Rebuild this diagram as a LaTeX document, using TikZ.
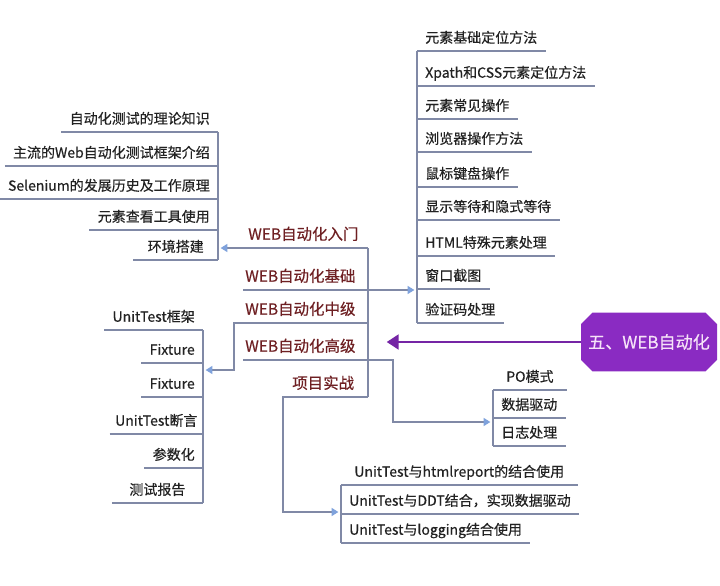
\documentclass[tikz,border=0pt]{standalone}
\usepackage{fontspec}
\setmainfont{Noto Sans CJK SC}[FakeBold=0.4]
\usetikzlibrary{arrows.meta,shapes.misc}
\definecolor{linkgray}{HTML}{8089A6}
\definecolor{tipblue}{HTML}{7FA2DC}
\definecolor{branchred}{HTML}{6E1F22}
\definecolor{leafink}{HTML}{222222}
\definecolor{rootpurple}{HTML}{8A2BC2}
\definecolor{rootink}{HTML}{F6E2F8}

\begin{document}
\begin{tikzpicture}[
        x=0.75pt, y=-0.75pt,
        leaf/.style={
            inner xsep=6pt,
            inner ysep=0pt,
            text height=9pt,
            text depth=6pt,
            font=\fontsize{10.5}{12}\selectfont,
            text=leafink
        },
        rleaf/.style={leaf, anchor=south west},
        lleaf/.style={leaf, anchor=south east},
        branch/.style={
            anchor=south west,
            inner sep=0pt,
            text height=10pt,
            text depth=6pt,
            font=\fontsize{11.6}{13}\selectfont,
            text=branchred
        },
        root/.style={
            chamfered rectangle,
            chamfered rectangle xsep=5pt,
            inner xsep=0pt,
            fill=rootpurple,
            text=rootink,
            minimum width=102pt,
            minimum height=44pt,
            font=\fontsize{12.8}{14}\selectfont
        },
        link/.style={draw=linkgray, line width=0.9pt},
        arrow/.style={link, -{Triangle[length=5pt, width=6pt, color=tipblue]}, shorten >=2pt},
        rootarrow/.style={draw=rootpurple!85!black, line width=2.2pt, -{Triangle[length=9pt, width=11pt]}}
    ]
    \useasboundingbox[fill=white] (0,0) rectangle (720,585);

    \node[rleaf] (r1) at (417,51) {元素基础定位方法};
    \node[rleaf] (r2) at (417,86) {Xpath和CSS元素定位方法};
    \node[rleaf] (r3) at (417,119) {元素常见操作};
    \node[rleaf] (r4) at (417,152) {浏览器操作方法};
    \node[rleaf] (r5) at (417,187) {鼠标键盘操作};
    \node[rleaf] (r6) at (417,220) {显示等待和隐式等待};
    \node[rleaf] (r7) at (417,256) {HTML特殊元素处理};
    \node[rleaf] (r8) at (417,289) {窗口截图};
    \node[rleaf] (r9) at (417,323) {验证码处理};

    \node[lleaf] (a1) at (218,132) {自动化测试的理论知识};
    \node[lleaf] (a2) at (218,166) {主流的Web自动化测试框架介绍};
    \node[lleaf] (a3) at (218,199) {Selenium的发展历史及工作原理};
    \node[lleaf] (a4) at (218,230) {元素查看工具使用};
    \node[lleaf, minimum width=63pt] (a5) at (218,260) {环境搭建};

    \node[lleaf] (u1) at (203,330) {UnitTest框架};
    \node[lleaf] (u2) at (203,363) {Fixture};
    \node[lleaf] (u3) at (203,397) {Fixture};
    \node[lleaf, inner xsep=4pt] (u4) at (203,434) {UnitTest断言};
    \node[lleaf] (u5) at (203,468) {参数化};
    \node[lleaf, minimum width=68pt] (u6) at (203,503) {测试报告};

    \node[rleaf, minimum width=55pt] (p1) at (493,390) {PO模式};
    \node[rleaf] (p2) at (493,418) {数据驱动};
    \node[rleaf] (p3) at (493,446) {日志处理};

    \node[rleaf, minimum width=177pt] (b1) at (341,485) {UnitTest与htmlreport的结合使用};
    \node[rleaf, minimum width=177pt] (b2) at (341,514) {UnitTest与DDT结合，实现数据驱动};
    \node[rleaf] (b3) at (341,543) {UnitTest与logging结合使用};

    \foreach \n in {r1,r2,r3,r4,r5,r6,r7,r8,r9,a1,a2,a3,a4,a5,u1,u2,u3,u4,u5,u6,p1,p2,p3,b1,b2,b3}
        \draw[link] (\n.south west) -- (\n.south east);
    \draw[link] (r1.south west) -- (r9.south west);
    \draw[link] (a1.south east) -- (a5.south east);
    \draw[link] (u1.south east) -- (u6.south east);
    \draw[link] (p1.south west) -- (p3.south west);
    \draw[link] (b1.south west) -- (b3.south west);

    \node[branch] (rumen) at (248,248) {WEB自动化入门};
    \node[branch] (jichu) at (245,290) {WEB自动化基础};
    \node[branch] (zhongji) at (245,323) {WEB自动化中级};
    \node[branch] (gaoji) at (245,360) {WEB自动化高级};
    \node[branch] (shizhan) at (292,397) {项目实战};

    \coordinate (hubtop) at (368,248);
    \coordinate (hubbot) at (368,397);
    \coordinate (zjbend) at (234,370);
    \coordinate (gjbend) at (393,422);
    \coordinate (szbend) at (283,512);

    \draw[link] (hubtop) -- (hubbot);
    \draw[arrow] (hubtop) -- (a5.south east |- hubtop);
    \draw[arrow] ([xshift=-1.5pt]jichu.south west) -- (r9.south west |- jichu.south west);
    \draw[arrow] (hubtop |- zhongji.south) -| (zjbend) -- (u1.south east |- zjbend);
    \draw[arrow] ([xshift=-1.5pt]gaoji.south west) -| (gjbend) -- (p1.south west |- gjbend);
    \draw[arrow] (hubbot) -| (szbend) -- (b1.south west |- szbend);

    \node[root] (root) at (649,342) {五、WEB自动化};
    \draw[rootarrow] (root.west) -- (hubtop |- root.west) [shorten >=14pt];
\end{tikzpicture}
\end{document}
